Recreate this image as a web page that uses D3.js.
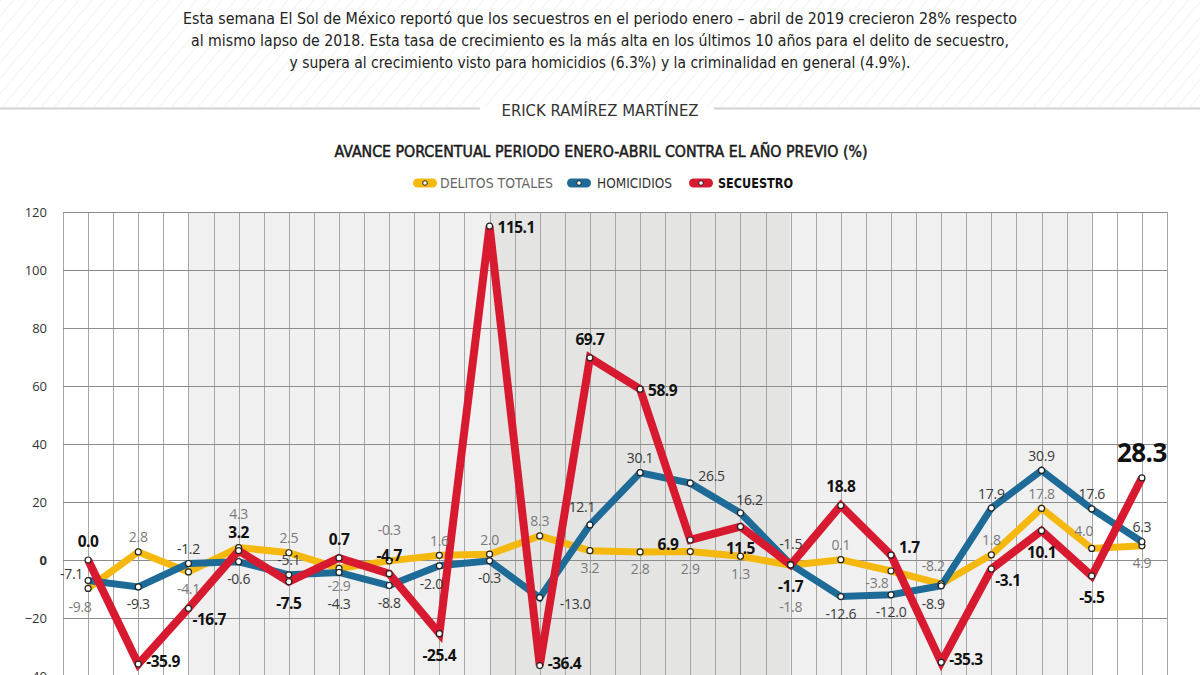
<!DOCTYPE html>
<html><head><meta charset="utf-8">
<script src="https://cdn.jsdelivr.net/npm/d3@7"></script>
<style>body{margin:0;background:#fff;overflow:hidden}</style>
</head><body><svg id="c" width="1200" height="675"></svg>
<script>
// ---------- DATA ----------
const years = [1998,1999,2000,2001,2002,2003,2004,2005,2006,2007,2008,2009,2010,2011,2012,2013,2014,2015,2016,2017,2018,2019];
const delitosTotales = [-9.8,2.8,-4.1,4.3,2.5,-2.9,-0.3,1.6,2.0,8.3,3.2,2.8,2.9,1.3,-1.8,0.1,-3.8,-8.2,1.8,17.8,4.0,4.9];
const homicidios = [-7.1,-9.3,-1.2,-0.6,-5.1,-4.3,-8.8,-2.0,-0.3,-13.0,12.1,30.1,26.5,16.2,-1.5,-12.6,-12.0,-8.9,17.9,30.9,17.6,6.3];
const secuestro = [0.0,-35.9,-16.7,3.2,-7.5,0.7,-4.7,-25.4,115.1,-36.4,69.7,58.9,6.9,11.5,-1.7,18.8,1.7,-35.3,-3.1,10.1,-5.5,28.3];
const yTicks = [120,100,80,60,40,20,0,-20,-40];
const seriesNames = ["DELITOS TOTALES","HOMICIDIOS","SECUESTRO"];
const periodStart = [2000,2006,2012];
const periodEnd = [2006,2012,2018];
const introLines = [
  "Esta semana El Sol de México reportó que los secuestros en el periodo enero – abril de 2019 crecieron 28% respecto",
  "al mismo lapso de 2018. Esta tasa de crecimiento es la más alta en los últimos 10 años para el delito de secuestro,",
  "y supera al crecimiento visto para homicidios (6.3%) y la criminalidad en general (4.9%)."
];
const author = "ERICK RAMÍREZ MARTÍNEZ";
const title = "AVANCE PORCENTUAL PERIODO ENERO-ABRIL CONTRA EL AÑO PREVIO (%)";
// label placement codes (layout hints)
const delitosPos = ['bl','a','b','a3','a','b','aa','a','a','a','b','b','b','b','bb','a','lb','al','a','a','al','b'];
const homicidiosPos = ['la','b','a','b','a','b2','b','bl','b','r2','al','a','ra','ar','a2','b','b','bl','a','a','a','a'];
const secuestroPos = ['A','ru','rb','A','B','A','A','B','r','ru','A','r','l','B','B','A','ra','ru','rb','B','B','AA'];

// ---------- CHART ----------
const svg = d3.select('#c');
const NARROW = '"Liberation Sans Narrow","DejaVu Sans Condensed","Arial Narrow",sans-serif';
const NUM = '"Open Sans","Noto Sans",sans-serif';

// header hatch
const defs = svg.append('defs');
const pat = defs.append('pattern').attr('id','hatch').attr('patternUnits','userSpaceOnUse')
  .attr('width',10).attr('height',10).attr('patternTransform','rotate(40)');
pat.append('line').attr('x1',0).attr('y1',0).attr('x2',0).attr('y2',10)
  .attr('stroke','#ececec').attr('stroke-width',1.3);
svg.append('rect').attr('x',0).attr('y',0).attr('width',1200).attr('height',107).attr('fill','url(#hatch)');
svg.append('line').attr('x1',0).attr('x2',480).attr('y1',108.5).attr('y2',108.5).attr('stroke','#d2d2d2').attr('stroke-width',2);
svg.append('line').attr('x1',714).attr('x2',1200).attr('y1',108.5).attr('y2',108.5).attr('stroke','#d2d2d2').attr('stroke-width',2);

const introW = [834, 818, 621];
const introY = [18, 40, 62];
introLines.forEach((t,i)=>{
  svg.append('text').attr('x',600).attr('y',introY[i]).attr('text-anchor','middle')
    .attr('dominant-baseline','central').attr('font-family',NARROW).attr('font-size',16.5)
    .attr('fill','#222').attr('textLength',introW[i]).attr('lengthAdjust','spacingAndGlyphs').text(t);
});
svg.append('text').attr('x',600).attr('y',111).attr('text-anchor','middle').attr('dominant-baseline','central')
  .attr('font-family',NARROW).attr('font-size',15.5).attr('fill','#333')
  .attr('textLength',197).attr('lengthAdjust','spacingAndGlyphs').text(author);
svg.append('text').attr('x',601).attr('y',151).attr('text-anchor','middle').attr('dominant-baseline','central')
  .attr('font-family',NARROW).attr('font-size',16).attr('fill','#1a1a1a').attr('stroke','#1a1a1a').attr('stroke-width',0.5)
  .attr('textLength',533).attr('lengthAdjust','spacingAndGlyphs').text(title);

// scales
const x = d3.scaleBand().domain(years).range([63, 1167]).padding(0);
const cx = d => x(d) + x.bandwidth()/2;
const y = d3.scaleLinear().domain([-40, 120]).range([676, 212]);
const plotTop = y(120), plotBottom = 740;

// period shading
const shadeFill = ['#f0f0f0','#e4e4e2','#f0f0f0'];
periodStart.forEach((s,i)=>{
  svg.append('rect').attr('x',cx(s)).attr('y',plotTop).attr('width',cx(periodEnd[i])-cx(s))
    .attr('height',plotBottom-plotTop).attr('fill',shadeFill[i]);
});

// vertical grid
const g = svg.append('g');
const vx = [];
years.forEach(yr=>{ vx.push(x(yr)); vx.push(cx(yr)); });
vx.push(x(years[years.length-1]) + x.bandwidth());
g.selectAll('line.v').data(vx).enter().append('line')
  .attr('x1',d=>Math.round(d)+0.5).attr('x2',d=>Math.round(d)+0.5)
  .attr('y1',plotTop).attr('y2',plotBottom).attr('stroke','#a6a6a6').attr('stroke-width',1);
// horizontal grid via axis
const yAxis = d3.axisLeft(y).tickValues(yTicks).tickSize(-(1167-63)).tickFormat(d3.format('d'));
const ya = svg.append('g').attr('transform','translate(63,0)').call(yAxis);
ya.select('.domain').remove();
ya.selectAll('.tick line').attr('stroke','#8c8c8c').attr('stroke-width',1);
ya.selectAll('.tick text').attr('x',-16).attr('font-family',NUM).attr('font-size',13)
  .attr('fill','#333').attr('font-weight',d=>d===0?'bold':'normal');

// lines
const colors = ['#f5b80f','#1e6b98','#d71a30'];
const widths = [7,7,8];
const allSeries = [delitosTotales, homicidios, secuestro];
const line = d3.line().x((d,i)=>cx(years[i])).y(d=>y(d)).curve(d3.curveLinear);
allSeries.forEach((s,k)=>{
  svg.append('path').datum(s).attr('d',line).attr('fill','none')
    .attr('stroke',colors[k]).attr('stroke-width',widths[k]).attr('stroke-linejoin','miter').attr('stroke-miterlimit',3);
});
allSeries.forEach((s,k)=>{
  svg.append('g').selectAll('circle').data(s).enter().append('circle')
    .attr('cx',(d,i)=>cx(years[i])).attr('cy',d=>y(d)).attr('r',3)
    .attr('fill','#fff').attr('stroke','#222').attr('stroke-width',1.2);
});

// labels
const off = {
  a:[0,-15,'middle'], aa:[0,-31,'middle'], a3:[0,-34,'middle'], a2:[0,-21,'middle'], b:[0,17,'middle'], bb:[0,41,'middle'], b2:[0,31,'middle'],
  al:[-8,-18,'middle'], ar:[9,-14,'middle'], bl:[-8,18,'middle'], lb:[-14,11,'middle'],
  la:[-5,-7,'end'], r:[8,1,'start'], ru:[8,-3,'start'], r2:[20,6,'start'], rb:[4,11,'start'], ra:[8,-8,'start'], l:[-12,4,'end'],
  A:[0,-19,'middle'], AA:[0,-26,'middle'], B:[0,21,'middle']
};
const fmt = d3.format('.1f');
function labels(series, pos, opts){
  series.forEach((v,i)=>{
    const o = off[pos[i]];
    const big = opts.bigLast && i===series.length-1;
    svg.append('text').attr('x',cx(years[i])+o[0]).attr('y',y(v)+o[1])
      .attr('text-anchor',o[2]).attr('dominant-baseline','central')
      .attr('font-family',NUM).attr('font-size',big?26:opts.size).attr('font-weight',opts.weight)
      .attr('letter-spacing',opts.weight==='bold'?-0.5:-0.3)
      .attr('fill',opts.color).text(fmt(v).replace('\u2212','-'));
  });
}
labels(delitosTotales, delitosPos, {size:14, weight:'normal', color:'#7a7a7a'});
labels(homicidios, homicidiosPos, {size:14, weight:'normal', color:'#3a3a3a'});
labels(secuestro, secuestroPos, {size:15.5, weight:'bold', color:'#111', bigLast:true});

// legend
const legX = [425, 579, 701];
const legTextX = [440, 597, 718];
const legW = [113, 75, 75];
const legFill = ['#666','#333','#111'];
seriesNames.forEach((n,k)=>{
  svg.append('rect').attr('x',legX[k]-12).attr('y',178.5).attr('width',24).attr('height',9).attr('rx',4.5)
    .attr('fill',colors[k]);
  svg.append('circle').attr('cx',legX[k]).attr('cy',183).attr('r',2.3).attr('fill','#fff').attr('stroke','#222').attr('stroke-width',1);
  svg.append('text').attr('x',legTextX[k]).attr('y',183).attr('dominant-baseline','central')
    .attr('font-family',NARROW).attr('font-size',14.5).attr('font-weight',k===2?'bold':'normal')
    .attr('fill',legFill[k]).attr('textLength',legW[k]).attr('lengthAdjust','spacingAndGlyphs').text(n);
});
</script></body></html>
